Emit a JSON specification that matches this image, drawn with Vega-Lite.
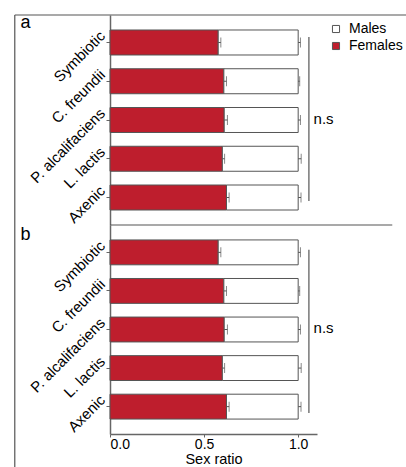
{
  "$schema": "https://vega.github.io/schema/vega-lite/v6.json",
  "padding": {"left": 14, "top": 14, "right": 0, "bottom": 0},
  "autosize": {"type": "pad"},
  "config": {
    "font": "Liberation Sans",
    "view": {"stroke": null},
    "axis": {"grid": false}
  },
  "datasets": {
    "ratio": [
      {"panel": "a", "strain": "Symbiotic", "sex": "Females", "share": 0.575},
      {"panel": "a", "strain": "Symbiotic", "sex": "Males", "share": 0.425},
      {"panel": "a", "strain": "C. freundii", "sex": "Females", "share": 0.605},
      {"panel": "a", "strain": "C. freundii", "sex": "Males", "share": 0.395},
      {"panel": "a", "strain": "P. alcalifaciens", "sex": "Females", "share": 0.607},
      {"panel": "a", "strain": "P. alcalifaciens", "sex": "Males", "share": 0.393},
      {"panel": "a", "strain": "L. lactis", "sex": "Females", "share": 0.597},
      {"panel": "a", "strain": "L. lactis", "sex": "Males", "share": 0.403},
      {"panel": "a", "strain": "Axenic", "sex": "Females", "share": 0.619},
      {"panel": "a", "strain": "Axenic", "sex": "Males", "share": 0.381},
      {"panel": "b", "strain": "Symbiotic", "sex": "Females", "share": 0.575},
      {"panel": "b", "strain": "Symbiotic", "sex": "Males", "share": 0.425},
      {"panel": "b", "strain": "C. freundii", "sex": "Females", "share": 0.605},
      {"panel": "b", "strain": "C. freundii", "sex": "Males", "share": 0.395},
      {"panel": "b", "strain": "P. alcalifaciens", "sex": "Females", "share": 0.607},
      {"panel": "b", "strain": "P. alcalifaciens", "sex": "Males", "share": 0.393},
      {"panel": "b", "strain": "L. lactis", "sex": "Females", "share": 0.597},
      {"panel": "b", "strain": "L. lactis", "sex": "Males", "share": 0.403},
      {"panel": "b", "strain": "Axenic", "sex": "Females", "share": 0.619},
      {"panel": "b", "strain": "Axenic", "sex": "Males", "share": 0.381}
    ],
    "errors": [
      {"panel": "a", "strain": "Symbiotic", "mean": 0.575, "upper": 0.589},
      {"panel": "a", "strain": "C. freundii", "mean": 0.605, "upper": 0.619},
      {"panel": "a", "strain": "P. alcalifaciens", "mean": 0.607, "upper": 0.624},
      {"panel": "a", "strain": "L. lactis", "mean": 0.597, "upper": 0.609},
      {"panel": "a", "strain": "Axenic", "mean": 0.619, "upper": 0.633},
      {"panel": "a", "strain": "Symbiotic", "mean": 1.0, "upper": 1.012},
      {"panel": "a", "strain": "C. freundii", "mean": 1.0, "upper": 1.008},
      {"panel": "a", "strain": "P. alcalifaciens", "mean": 1.0, "upper": 1.012},
      {"panel": "a", "strain": "L. lactis", "mean": 1.0, "upper": 1.016},
      {"panel": "a", "strain": "Axenic", "mean": 1.0, "upper": 1.015},
      {"panel": "b", "strain": "Symbiotic", "mean": 0.575, "upper": 0.589},
      {"panel": "b", "strain": "C. freundii", "mean": 0.605, "upper": 0.619},
      {"panel": "b", "strain": "P. alcalifaciens", "mean": 0.607, "upper": 0.624},
      {"panel": "b", "strain": "L. lactis", "mean": 0.597, "upper": 0.609},
      {"panel": "b", "strain": "Axenic", "mean": 0.619, "upper": 0.633},
      {"panel": "b", "strain": "Symbiotic", "mean": 1.0, "upper": 1.012},
      {"panel": "b", "strain": "C. freundii", "mean": 1.0, "upper": 1.008},
      {"panel": "b", "strain": "P. alcalifaciens", "mean": 1.0, "upper": 1.012},
      {"panel": "b", "strain": "L. lactis", "mean": 1.0, "upper": 1.016},
      {"panel": "b", "strain": "Axenic", "mean": 1.0, "upper": 1.015}
    ],
    "lines": [
      {"panel": "a", "x": -0.506, "x2": 1.58, "y": 1, "y2": 1},
      {"panel": "a", "x": -0.506, "x2": -0.506, "y": 1, "y2": 0},
      {"panel": "a", "x": 0, "x2": 1.5, "y": 0, "y2": 0},
      {"panel": "a", "x": 1.057, "x2": 1.057, "y": 0.895, "y2": 0.114},
      {"panel": "b", "x": -0.506, "x2": -0.506, "y": 1, "y2": -0.16},
      {"panel": "b", "x": 1.057, "x2": 1.057, "y": 0.881, "y2": 0.1}
    ],
    "notes": [
      {"panel": "a", "kind": "letter", "x": -0.475, "y": 0.96, "text": "a"},
      {"panel": "a", "kind": "test", "x": 1.082, "y": 0.505, "text": "n.s"},
      {"panel": "b", "kind": "letter", "x": -0.475, "y": 0.952, "text": "b"},
      {"panel": "b", "kind": "test", "x": 1.082, "y": 0.505, "text": "n.s"}
    ]
  },
  "vconcat": [
    {
      "width": 207,
      "height": 210,
      "layer": [
        {
          "layer": [
            {
              "data": {"name": "ratio"},
              "transform": [{"filter": "datum.panel === 'a'"}],
              "mark": {"type": "bar", "stroke": "#555", "strokeWidth": 1},
              "encoding": {
                "y": {"field": "strain", "type": "nominal", "sort": ["Symbiotic", "C. freundii", "P. alcalifaciens", "L. lactis", "Axenic"], "scale": {"paddingInner": 0.355, "paddingOuter": 0.387}, "axis": {"title": null, "labelAngle": -45, "labelAlign": "right", "labelBaseline": "middle", "labelFontSize": 15, "labelColor": "#000", "labelPadding": 4, "labelOffset": -9, "tickSize": 4, "tickColor": "#666", "domainColor": "#666", "domainWidth": 1.5}},
                "x": {"field": "share", "type": "quantitative", "stack": "zero", "scale": {"domain": [0, 1.1], "nice": false}, "axis": null},
                "color": {"field": "sex", "type": "nominal", "scale": {"domain": ["Males", "Females"], "range": ["#ffffff", "#be1e2d"]}, "legend": {"orient": "none", "legendX": 219, "legendY": 7, "title": null, "symbolType": "square", "symbolSize": 50, "labelFontSize": 14, "labelColor": "#000", "rowPadding": 3, "labelOffset": 6, "symbolStrokeColor": "#555", "symbolStrokeWidth": 1, "padding": 0}},
                "order": {"field": "sex", "sort": "ascending"}
              }
            },
            {
              "data": {"name": "errors"},
              "transform": [{"filter": "datum.panel === 'a'"}],
              "mark": {"type": "rule", "color": "#555", "strokeWidth": 1},
              "encoding": {
                "y": {"field": "strain", "type": "nominal", "sort": ["Symbiotic", "C. freundii", "P. alcalifaciens", "L. lactis", "Axenic"], "scale": {"paddingInner": 0.355, "paddingOuter": 0.387}, "axis": {"title": null, "labelAngle": -45, "labelAlign": "right", "labelBaseline": "middle", "labelFontSize": 15, "labelColor": "#000", "labelPadding": 4, "labelOffset": -9, "tickSize": 4, "tickColor": "#666", "domainColor": "#666", "domainWidth": 1.5}},
                "x": {"field": "mean", "type": "quantitative", "scale": {"domain": [0, 1.1], "nice": false}, "axis": null},
                "x2": {"field": "upper"}
              }
            },
            {
              "data": {"name": "errors"},
              "transform": [{"filter": "datum.panel === 'a'"}],
              "mark": {"type": "tick", "color": "#555", "size": 10, "thickness": 1},
              "encoding": {
                "y": {"field": "strain", "type": "nominal", "sort": ["Symbiotic", "C. freundii", "P. alcalifaciens", "L. lactis", "Axenic"], "scale": {"paddingInner": 0.355, "paddingOuter": 0.387}, "axis": {"title": null, "labelAngle": -45, "labelAlign": "right", "labelBaseline": "middle", "labelFontSize": 15, "labelColor": "#000", "labelPadding": 4, "labelOffset": -9, "tickSize": 4, "tickColor": "#666", "domainColor": "#666", "domainWidth": 1.5}},
                "x": {"field": "upper", "type": "quantitative", "scale": {"domain": [0, 1.1], "nice": false}, "axis": null}
              }
            }
          ]
        },
        {
          "layer": [
            {
              "data": {"name": "lines"},
              "transform": [{"filter": "datum.panel === 'a'"}],
              "mark": {"type": "rule", "color": "#555", "strokeWidth": 1.2},
              "encoding": {
                "x": {"field": "x", "type": "quantitative", "scale": {"domain": [0, 1.1], "nice": false}, "axis": null},
                "x2": {"field": "x2"},
                "y": {"field": "y", "type": "quantitative", "scale": {"domain": [0, 1], "nice": false}, "axis": null},
                "y2": {"field": "y2"}
              }
            },
            {
              "data": {"name": "notes"},
              "transform": [{"filter": "datum.panel === 'a' && datum.kind === 'letter'"}],
              "mark": {"type": "text", "align": "left", "baseline": "middle", "fontSize": 18, "color": "#000"},
              "encoding": {
                "x": {"field": "x", "type": "quantitative", "scale": {"domain": [0, 1.1], "nice": false}, "axis": null},
                "y": {"field": "y", "type": "quantitative", "scale": {"domain": [0, 1], "nice": false}, "axis": null},
                "text": {"field": "text"}
              }
            },
            {
              "data": {"name": "notes"},
              "transform": [{"filter": "datum.panel === 'a' && datum.kind === 'test'"}],
              "mark": {"type": "text", "align": "left", "baseline": "middle", "fontSize": 15, "color": "#000"},
              "encoding": {
                "x": {"field": "x", "type": "quantitative", "scale": {"domain": [0, 1.1], "nice": false}, "axis": null},
                "y": {"field": "y", "type": "quantitative", "scale": {"domain": [0, 1], "nice": false}, "axis": null},
                "text": {"field": "text"}
              }
            }
          ]
        }
      ],
      "resolve": {"scale": {"y": "independent"}, "axis": {"y": "independent"}}
    },
    {
      "width": 207,
      "height": 209,
      "layer": [
        {
          "layer": [
            {
              "data": {"name": "ratio"},
              "transform": [{"filter": "datum.panel === 'b'"}],
              "mark": {"type": "bar", "stroke": "#555", "strokeWidth": 1},
              "encoding": {
                "y": {"field": "strain", "type": "nominal", "sort": ["Symbiotic", "C. freundii", "P. alcalifaciens", "L. lactis", "Axenic"], "scale": {"paddingInner": 0.355, "paddingOuter": 0.387}, "axis": {"title": null, "labelAngle": -45, "labelAlign": "right", "labelBaseline": "middle", "labelFontSize": 15, "labelColor": "#000", "labelPadding": 4, "labelOffset": -9, "tickSize": 4, "tickColor": "#666", "domainColor": "#666", "domainWidth": 1.5}},
                "x": {"field": "share", "type": "quantitative", "stack": "zero", "scale": {"domain": [0, 1.1], "nice": false}, "axis": {"values": [0, 0.5, 1], "format": ".1f", "title": "Sex ratio", "labelFontSize": 14, "titleFontSize": 14.5, "titleFontWeight": "normal", "labelColor": "#000", "titleColor": "#000", "tickSize": 3, "tickColor": "#666", "domainColor": "#666", "domainWidth": 1.5, "labelPadding": 0, "titlePadding": 1}},
                "color": {"field": "sex", "type": "nominal", "scale": {"domain": ["Males", "Females"], "range": ["#ffffff", "#be1e2d"]}, "legend": null},
                "order": {"field": "sex", "sort": "ascending"}
              }
            },
            {
              "data": {"name": "errors"},
              "transform": [{"filter": "datum.panel === 'b'"}],
              "mark": {"type": "rule", "color": "#555", "strokeWidth": 1},
              "encoding": {
                "y": {"field": "strain", "type": "nominal", "sort": ["Symbiotic", "C. freundii", "P. alcalifaciens", "L. lactis", "Axenic"], "scale": {"paddingInner": 0.355, "paddingOuter": 0.387}, "axis": {"title": null, "labelAngle": -45, "labelAlign": "right", "labelBaseline": "middle", "labelFontSize": 15, "labelColor": "#000", "labelPadding": 4, "labelOffset": -9, "tickSize": 4, "tickColor": "#666", "domainColor": "#666", "domainWidth": 1.5}},
                "x": {"field": "mean", "type": "quantitative", "scale": {"domain": [0, 1.1], "nice": false}, "axis": {"values": [0, 0.5, 1], "format": ".1f", "title": "Sex ratio", "labelFontSize": 14, "titleFontSize": 14.5, "titleFontWeight": "normal", "labelColor": "#000", "titleColor": "#000", "tickSize": 3, "tickColor": "#666", "domainColor": "#666", "domainWidth": 1.5, "labelPadding": 0, "titlePadding": 1}},
                "x2": {"field": "upper"}
              }
            },
            {
              "data": {"name": "errors"},
              "transform": [{"filter": "datum.panel === 'b'"}],
              "mark": {"type": "tick", "color": "#555", "size": 10, "thickness": 1},
              "encoding": {
                "y": {"field": "strain", "type": "nominal", "sort": ["Symbiotic", "C. freundii", "P. alcalifaciens", "L. lactis", "Axenic"], "scale": {"paddingInner": 0.355, "paddingOuter": 0.387}, "axis": {"title": null, "labelAngle": -45, "labelAlign": "right", "labelBaseline": "middle", "labelFontSize": 15, "labelColor": "#000", "labelPadding": 4, "labelOffset": -9, "tickSize": 4, "tickColor": "#666", "domainColor": "#666", "domainWidth": 1.5}},
                "x": {"field": "upper", "type": "quantitative", "scale": {"domain": [0, 1.1], "nice": false}, "axis": {"values": [0, 0.5, 1], "format": ".1f", "title": "Sex ratio", "labelFontSize": 14, "titleFontSize": 14.5, "titleFontWeight": "normal", "labelColor": "#000", "titleColor": "#000", "tickSize": 3, "tickColor": "#666", "domainColor": "#666", "domainWidth": 1.5, "labelPadding": 0, "titlePadding": 1}}
              }
            }
          ]
        },
        {
          "layer": [
            {
              "data": {"name": "lines"},
              "transform": [{"filter": "datum.panel === 'b'"}],
              "mark": {"type": "rule", "color": "#555", "strokeWidth": 1.2},
              "encoding": {
                "x": {"field": "x", "type": "quantitative", "scale": {"domain": [0, 1.1], "nice": false}, "axis": {"values": [0, 0.5, 1], "format": ".1f", "title": "Sex ratio", "labelFontSize": 14, "titleFontSize": 14.5, "titleFontWeight": "normal", "labelColor": "#000", "titleColor": "#000", "tickSize": 3, "tickColor": "#666", "domainColor": "#666", "domainWidth": 1.5, "labelPadding": 0, "titlePadding": 1}},
                "x2": {"field": "x2"},
                "y": {"field": "y", "type": "quantitative", "scale": {"domain": [0, 1], "nice": false}, "axis": null},
                "y2": {"field": "y2"}
              }
            },
            {
              "data": {"name": "notes"},
              "transform": [{"filter": "datum.panel === 'b' && datum.kind === 'letter'"}],
              "mark": {"type": "text", "align": "left", "baseline": "middle", "fontSize": 18, "color": "#000"},
              "encoding": {
                "x": {"field": "x", "type": "quantitative", "scale": {"domain": [0, 1.1], "nice": false}, "axis": {"values": [0, 0.5, 1], "format": ".1f", "title": "Sex ratio", "labelFontSize": 14, "titleFontSize": 14.5, "titleFontWeight": "normal", "labelColor": "#000", "titleColor": "#000", "tickSize": 3, "tickColor": "#666", "domainColor": "#666", "domainWidth": 1.5, "labelPadding": 0, "titlePadding": 1}},
                "y": {"field": "y", "type": "quantitative", "scale": {"domain": [0, 1], "nice": false}, "axis": null},
                "text": {"field": "text"}
              }
            },
            {
              "data": {"name": "notes"},
              "transform": [{"filter": "datum.panel === 'b' && datum.kind === 'test'"}],
              "mark": {"type": "text", "align": "left", "baseline": "middle", "fontSize": 15, "color": "#000"},
              "encoding": {
                "x": {"field": "x", "type": "quantitative", "scale": {"domain": [0, 1.1], "nice": false}, "axis": {"values": [0, 0.5, 1], "format": ".1f", "title": "Sex ratio", "labelFontSize": 14, "titleFontSize": 14.5, "titleFontWeight": "normal", "labelColor": "#000", "titleColor": "#000", "tickSize": 3, "tickColor": "#666", "domainColor": "#666", "domainWidth": 1.5, "labelPadding": 0, "titlePadding": 1}},
                "y": {"field": "y", "type": "quantitative", "scale": {"domain": [0, 1], "nice": false}, "axis": null},
                "text": {"field": "text"}
              }
            }
          ]
        }
      ],
      "resolve": {"scale": {"y": "independent"}, "axis": {"y": "independent"}}
    }
  ],
  "spacing": 0,
  "bounds": "flush",
  "resolve": {"scale": {"color": "independent"}, "legend": {"color": "independent"}}
}
